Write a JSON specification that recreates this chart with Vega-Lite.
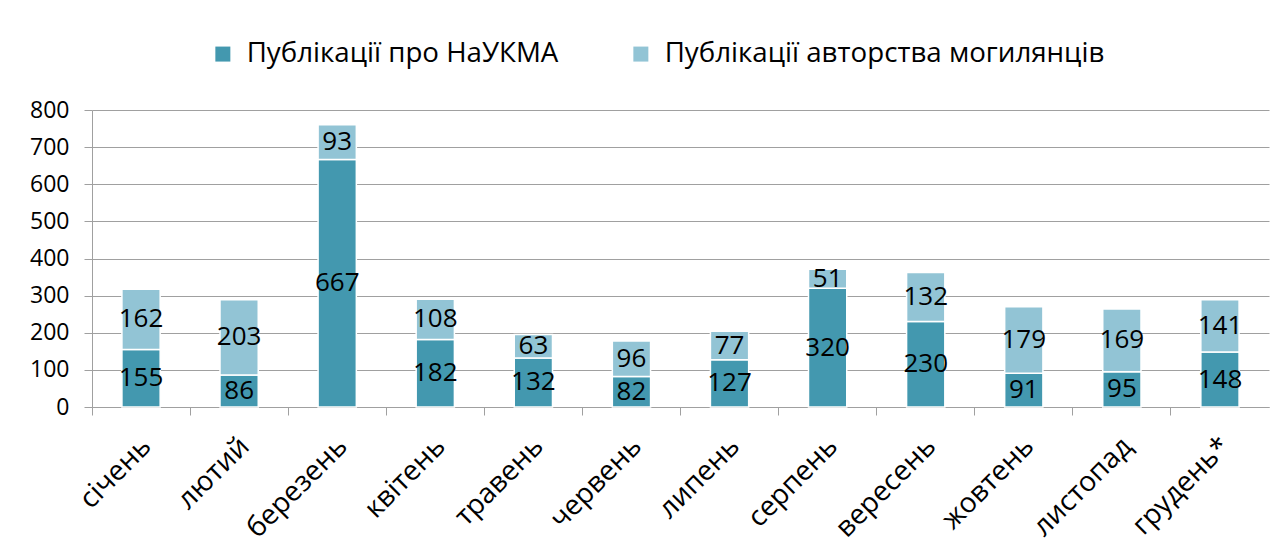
{
  "$schema": "https://vega.github.io/schema/vega-lite/v6.json",
  "autosize": "none",
  "width": 1177,
  "height": 297,
  "padding": {"left": 92, "top": 110, "right": 18, "bottom": 149},
  "background": "white",
  "config": {
    "font": "Open Sans",
    "view": {"stroke": null}
  },
  "data": {
    "values": [
      {"month": "січень", "series": "Публікації про НаУКМА", "k": 1, "value": 155},
      {"month": "січень", "series": "Публікації авторства могилянців", "k": 2, "value": 162},
      {"month": "лютий", "series": "Публікації про НаУКМА", "k": 1, "value": 86},
      {"month": "лютий", "series": "Публікації авторства могилянців", "k": 2, "value": 203},
      {"month": "березень", "series": "Публікації про НаУКМА", "k": 1, "value": 667},
      {"month": "березень", "series": "Публікації авторства могилянців", "k": 2, "value": 93},
      {"month": "квітень", "series": "Публікації про НаУКМА", "k": 1, "value": 182},
      {"month": "квітень", "series": "Публікації авторства могилянців", "k": 2, "value": 108},
      {"month": "травень", "series": "Публікації про НаУКМА", "k": 1, "value": 132},
      {"month": "травень", "series": "Публікації авторства могилянців", "k": 2, "value": 63},
      {"month": "червень", "series": "Публікації про НаУКМА", "k": 1, "value": 82},
      {"month": "червень", "series": "Публікації авторства могилянців", "k": 2, "value": 96},
      {"month": "липень", "series": "Публікації про НаУКМА", "k": 1, "value": 127},
      {"month": "липень", "series": "Публікації авторства могилянців", "k": 2, "value": 77},
      {"month": "серпень", "series": "Публікації про НаУКМА", "k": 1, "value": 320},
      {"month": "серпень", "series": "Публікації авторства могилянців", "k": 2, "value": 51},
      {"month": "вересень", "series": "Публікації про НаУКМА", "k": 1, "value": 230},
      {"month": "вересень", "series": "Публікації авторства могилянців", "k": 2, "value": 132},
      {"month": "жовтень", "series": "Публікації про НаУКМА", "k": 1, "value": 91},
      {"month": "жовтень", "series": "Публікації авторства могилянців", "k": 2, "value": 179},
      {"month": "листопад", "series": "Публікації про НаУКМА", "k": 1, "value": 95},
      {"month": "листопад", "series": "Публікації авторства могилянців", "k": 2, "value": 169},
      {"month": "грудень*", "series": "Публікації про НаУКМА", "k": 1, "value": 148},
      {"month": "грудень*", "series": "Публікації авторства могилянців", "k": 2, "value": 141}
    ]
  },
  "encoding": {
    "x": {
      "field": "month",
      "type": "nominal",
      "sort": null,
      "scale": {"paddingInner": 0, "paddingOuter": 0},
      "axis": {
        "title": null,
        "bandPosition": 0,
        "labelOffset": 6,
        "labelAngle": -45,
        "labelAlign": "right",
        "labelBaseline": "middle",
        "labelFontSize": 28,
        "labelColor": "black",
        "labelPadding": 27,
        "labelOverlap": false,
        "tickSize": 8,
        "tickColor": "#A0A0A0",
        "domainColor": "#A0A0A0",
        "grid": false
      }
    },
    "y": {
      "field": "value",
      "type": "quantitative",
      "stack": "zero",
      "scale": {"domain": [0, 800], "nice": false},
      "axis": {
        "title": null,
        "values": [0, 100, 200, 300, 400, 500, 600, 700, 800],
        "labelFontSize": 23,
        "labelColor": "black",
        "labelPadding": 15,
        "tickSize": 8,
        "tickColor": "#A0A0A0",
        "domainColor": "#A0A0A0",
        "gridColor": "#A0A0A0",
        "gridWidth": 1
      }
    },
    "order": {"field": "k", "type": "quantitative"}
  },
  "layer": [
    {
      "mark": {"type": "bar", "width": {"band": 0.39}, "stroke": "white", "strokeWidth": 1.5},
      "encoding": {
        "color": {
          "field": "series",
          "type": "nominal",
          "scale": {
            "domain": ["Публікації про НаУКМА", "Публікації авторства могилянців"],
            "range": ["#4398AF", "#92C4D5"]
          },
          "legend": {
            "title": null,
            "orient": "none",
            "legendX": 117,
            "legendY": -70,
            "direction": "horizontal",
            "symbolType": "square",
            "symbolSize": 225,
            "symbolStrokeWidth": 0,
            "labelFontSize": 27.7,
            "labelColor": "black",
            "labelLimit": 600,
            "columnPadding": 68,
            "labelOffset": 10
          }
        }
      }
    },
    {
      "mark": {"type": "text", "fontSize": 26, "color": "black", "baseline": "middle"},
      "encoding": {
        "y": {"field": "value", "type": "quantitative", "stack": "zero", "bandPosition": 0.5},
        "text": {"field": "value", "type": "quantitative"}
      }
    }
  ]
}
